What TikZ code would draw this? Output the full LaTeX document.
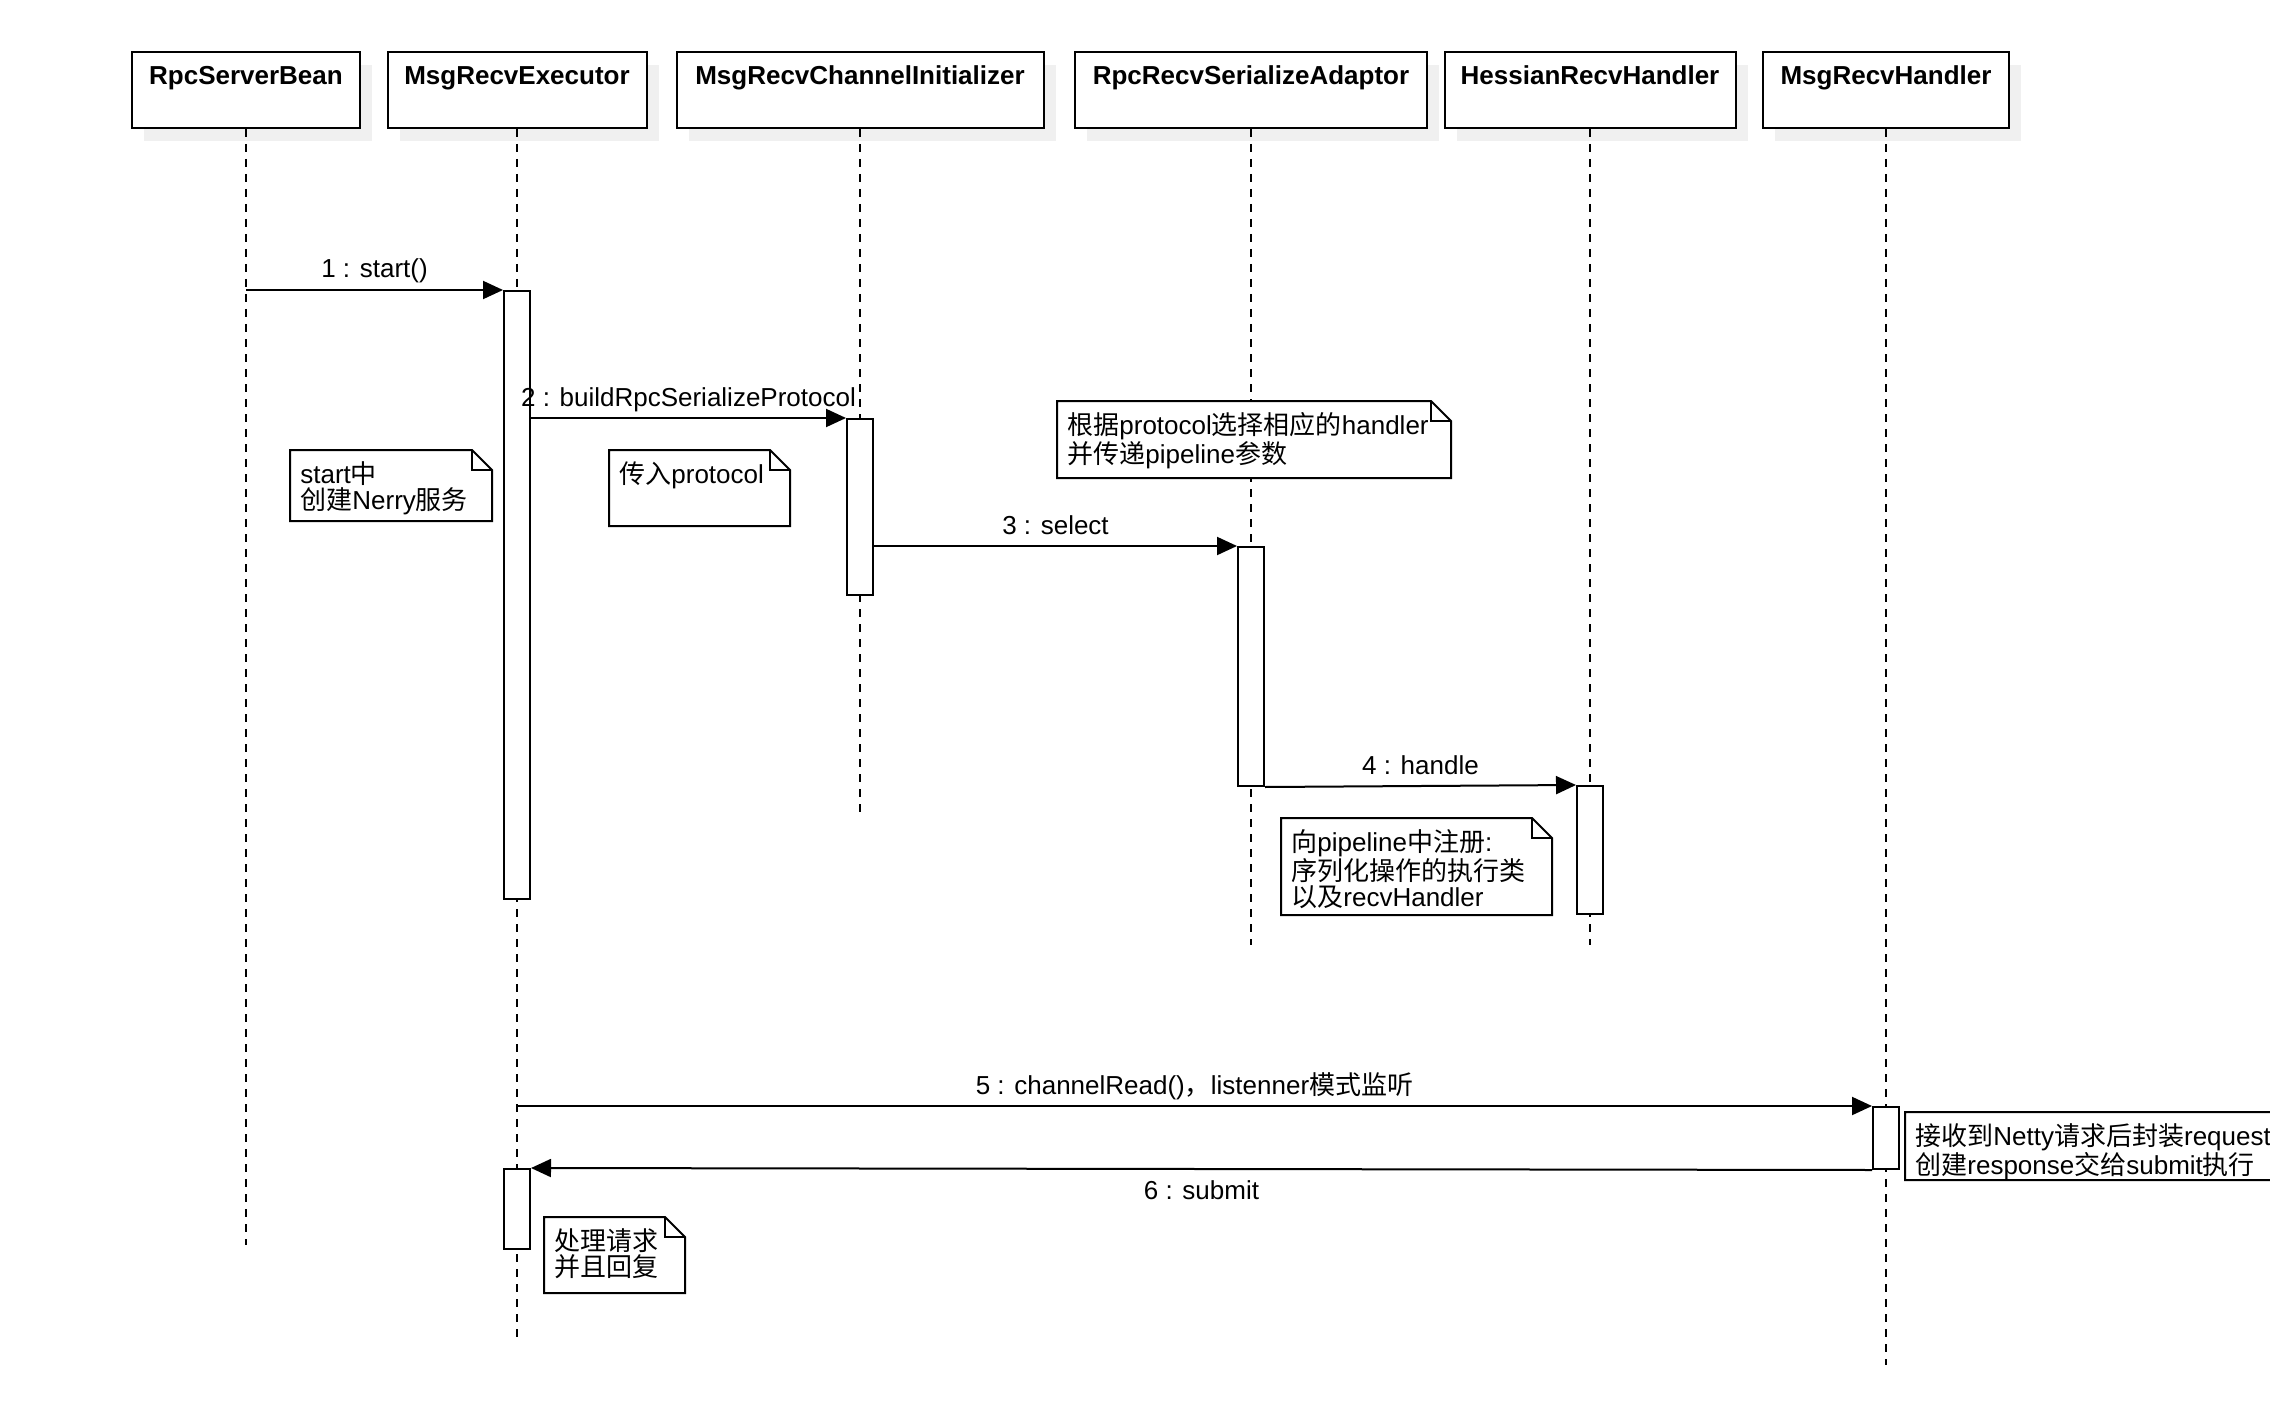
\documentclass[tikz,border=0pt]{standalone}
\usepackage{fontspec}
\setmainfont{Liberation Sans}
\newfontfamily\cjkf{Noto Sans CJK SC}
\newcommand{\zh}[1]{{\cjkf #1}}
\usetikzlibrary{arrows.meta}
\tikzset{
  headbox/.style={draw, line width=1pt, fill=white, anchor=north, inner sep=0pt,
    minimum height=38pt, text height=16.5pt, text depth=21.5pt,
    font=\bfseries\fontsize{13}{13}\selectfont},
  life/.style={line width=1pt, dash pattern=on 4pt off 3.5pt},
  actbar/.style={draw, line width=1pt, fill=white, minimum width=13pt, inner sep=0pt, anchor=north},
  msg/.style={line width=1pt, -{Triangle[length=10pt,width=9pt]}},
  msglabel/.style={anchor=base, font=\fontsize{13}{13}\selectfont, inner sep=0pt},
  notestyle/.style={draw, line width=1pt, fill=white},
  notetext/.style={anchor=north west, align=left, inner sep=0pt, font=\fontsize{13}{13}\selectfont},
}
\newcommand{\headnode}[4]{% name, x, width px, text
  \fill[black!6] (#2-#3/2+12,65) rectangle (#2+#3/2+12,141);
  \node[headbox, minimum width={#3*0.5pt}] (#1) at (#2,51) {#4};}
\newcommand{\notebox}[6]{% name, x1, y1, x2, y2, text
  \draw[notestyle] (#2,#3) -- (#4-20,#3) -- (#4,#3+20) -- (#4,#5) -- (#2,#5) -- cycle;
  \draw[line width=1pt] (#4-20,#3) -- (#4-20,#3+20) -- (#4,#3+20);
  \node[notetext] (#1) at (#2+10,#3+11) {#6};}
\begin{document}
\begin{tikzpicture}[x=0.5pt,y=-0.5pt]
\useasboundingbox (0,0) rectangle (2270,1412);
\fill[white] (0,0) rectangle (2270,1412);
\clip (0,0) rectangle (2270,1412);

% heads
\headnode{h1}{246}{228}{RpcServerBean}
\headnode{h2}{517}{259}{MsgRecvExecutor}
\headnode{h3}{860}{367}{MsgRecvChannelInitializer}
\headnode{h4}{1251}{352}{RpcRecvSerializeAdaptor}
\headnode{h5}{1590}{291}{HessianRecvHandler}
\headnode{h6}{1886}{246}{MsgRecvHandler}

% lifeline ends
\coordinate (e1) at (246,1245);
\coordinate (e2) at (517,1338);
\coordinate (e3) at (860,812);
\coordinate (e4) at (1251,945);
\coordinate (e5) at (1590,945);
\coordinate (e6) at (1886,1365);
\draw[life] (h1.south) -- (e1);
\draw[life] (h2.south) -- (e2);
\draw[life] (h3.south) -- (e3);
\draw[life] (h4.south) -- (e4);
\draw[life] (h5.south) -- (e5);
\draw[life] (h6.south) -- (e6);

% activation bars
\node[actbar, minimum height=304pt] (a1) at (517,290) {};
\node[actbar, minimum height=88pt] (a2) at (860,418) {};
\node[actbar, minimum height=119.5pt] (a3) at (1251,546) {};
\node[actbar, minimum height=64pt] (a4) at (1590,785) {};
\node[actbar, minimum height=31pt] (a5) at (1886,1106) {};
\node[actbar, minimum height=40pt] (a6) at (517,1168) {};

% messages
\draw[msg] (h1 |- a1.north west) -- node[msglabel, yshift=6pt] {1 : start()} (a1.north west);
\draw[msg] (a1.east |- a2.north west) -- node[msglabel, yshift=6pt] {2 : buildRpcSerializeProtocol} (a2.north west);
\draw[msg] (a2.east |- a3.north west) -- node[msglabel, yshift=6pt] {3 : select} (a3.north west);
\draw[msg] (a3.south east) -- node[msglabel, yshift=6pt] {4 : handle} (a4.north west);
\draw[msg] (h2 |- a5.north west) -- node[msglabel, yshift=6pt] {5 : channelRead()\zh{，}listenner\zh{模式监听}} (a5.north west);
\draw[msg] (a5.south west) -- node[msglabel, yshift=-15pt] {6 : submit} (a6.north east);

% notes
\notebox{na}{290}{450}{492}{521}{start\zh{中}\\\zh{创建}Nerry\zh{服务}}
\notebox{nb}{609}{450}{790}{526}{\zh{传入}protocol}
\notebox{nc}{1057}{401}{1451}{478}{\zh{根据}protocol\zh{选择相应的}handler\\\zh{并传递}pipeline\zh{参数}}
\notebox{nd}{1281}{818}{1552}{915}{\zh{向}pipeline\zh{中注册}:\\\zh{序列化操作的执行类}\\\zh{以及}recvHandler}
\notebox{ne}{1905}{1112}{2330}{1180}{\zh{接收到}Netty\zh{请求后封装}request\\\zh{创建}response\zh{交给}submit\zh{执行}}
\notebox{nf}{544}{1217}{685}{1293}{\zh{处理请求}\\\zh{并且回复}}
\end{tikzpicture}
\end{document}
